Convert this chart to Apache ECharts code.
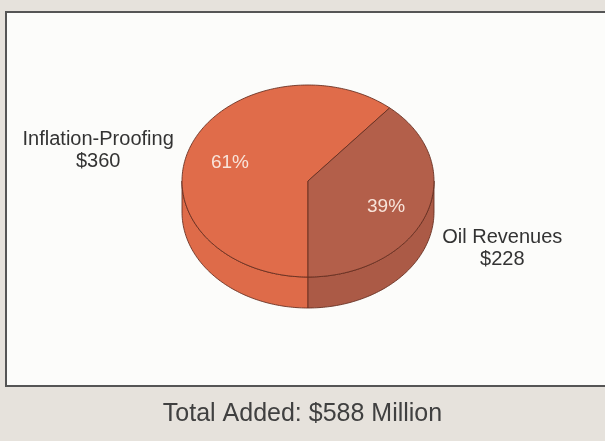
<!DOCTYPE html>
<html>
<head>
<meta charset="utf-8">
<script src="https://cdn.jsdelivr.net/npm/echarts@6/dist/echarts.min.js"></script>
<style>
  html, body { margin: 0; padding: 0; background: #e6e2dc; }
  #chart { width: 605px; height: 441px; }
</style>
</head>
<body>
<div id="chart"></div>
<script>
// Additions to the fund, $ million
const categories = ['Inflation-Proofing', 'Oil Revenues'];
const amounts = [360, 228];
const caption = 'Total Added: $588 Million';

// Slice colours (top face / side wall)
const topColors = ['#e06c4a', '#b35f4a'];
const sideColors = ['#de6b49', '#ab5a46'];
const edgeColor = 'rgba(100,45,30,0.85)';

// 3D pie geometry
const CX = 308, CY = 181, RX = 126, RY = 96, DEPTH = 31;
const START = -90;            // first slice starts at the front, runs clockwise
const FONT = '"Liberation Sans", Arial, Helvetica, sans-serif';
const NAME_SIZE = 20, PCT_SIZE = 19;

const total = amounts.reduce((a, b) => a + b, 0);
const rad = d => d * Math.PI / 180;
const pt = (deg, dy) => [CX + RX * Math.cos(rad(deg)), CY - RY * Math.sin(rad(deg)) + (dy || 0)];

const measureCtx = document.createElement('canvas').getContext('2d');
function textWidth(str, size) {
  measureCtx.font = size + 'px ' + FONT;
  return measureCtx.measureText(str).width;
}

function arc(from, to, dy) {
  const pts = [];
  const n = Math.max(2, Math.ceil(Math.abs(to - from)));
  for (let k = 0; k <= n; k++) pts.push(pt(from + (to - from) * k / n, dy));
  return pts;
}

function renderItem(params, api) {
  const i = params.dataIndex;
  const v = api.value(0);
  let before = 0;
  for (let k = 0; k < i; k++) before += amounts[k];
  const hi = START - before / total * 360;
  const lo = hi - v / total * 360;
  const children = [];

  // visible side wall: the part of the slice facing the viewer (sin < 0)
  for (let k = -2; k <= 1; k++) {
    const s = Math.max(lo, -180 + 360 * k);
    const e = Math.min(hi, 360 * k);
    if (e - s > 0.01) {
      const pts = arc(s, e, 0).concat(arc(e, s, DEPTH));
      children.push({
        type: 'polygon',
        shape: { points: pts },
        style: { fill: sideColors[i], stroke: edgeColor, lineWidth: 1 }
      });
    }
  }

  // top face
  children.push({
    type: 'polygon',
    shape: { points: [[CX, CY]].concat(arc(hi, lo, 0)) },
    style: { fill: topColors[i], stroke: edgeColor, lineWidth: 1, lineJoin: 'round' }
  });

  const mid = (lo + hi) / 2;
  const c = Math.cos(rad(mid)), s = Math.sin(rad(mid));

  // percentage inside the slice
  children.push({
    type: 'text',
    style: {
      x: CX + RX * 0.66 * c,
      y: CY - RY * 0.66 * s + 4,
      text: Math.round(v / total * 100) + '%',
      fill: '#f8e4da',
      font: PCT_SIZE + 'px ' + FONT,
      align: 'center',
      verticalAlign: 'middle'
    }
  });

  // name and amount outside the pie
  const name = categories[i];
  const amountText = '$' + v;
  const w = Math.max(textWidth(name, NAME_SIZE), textWidth(amountText, NAME_SIZE));
  const ax = CX + RX * c;
  const ay = CY - RY * s + (s < 0 ? DEPTH : 0) + 3;
  const gap = 16;
  children.push({
    type: 'text',
    style: {
      x: c < 0 ? ax - gap - w / 2 : ax + gap + w / 2,
      y: ay,
      text: name + '\n' + amountText,
      fill: '#333',
      font: NAME_SIZE + 'px ' + FONT,
      lineHeight: 22,
      align: 'center',
      verticalAlign: 'middle'
    }
  });

  return { type: 'group', children };
}

const chart = echarts.init(document.getElementById('chart'), null, { renderer: 'canvas' });
chart.setOption({
  backgroundColor: '#e6e2dc',
  animation: false,
  title: {
    text: caption,
    left: 'center',
    top: 397,
    textStyle: { fontFamily: FONT, fontSize: 25, fontWeight: 'normal', color: '#404040' }
  },
  graphic: [{
    type: 'rect',
    z: -1,
    shape: { x: 6, y: 12, width: 610, height: 374 },
    style: { fill: '#fcfcfa', stroke: '#555', lineWidth: 2 }
  }],
  series: [{
    type: 'custom',
    coordinateSystem: 'none',
    renderItem: renderItem,
    data: amounts.map((v, i) => ({ name: categories[i], value: [v] }))
  }]
});
</script>
</body>
</html>
